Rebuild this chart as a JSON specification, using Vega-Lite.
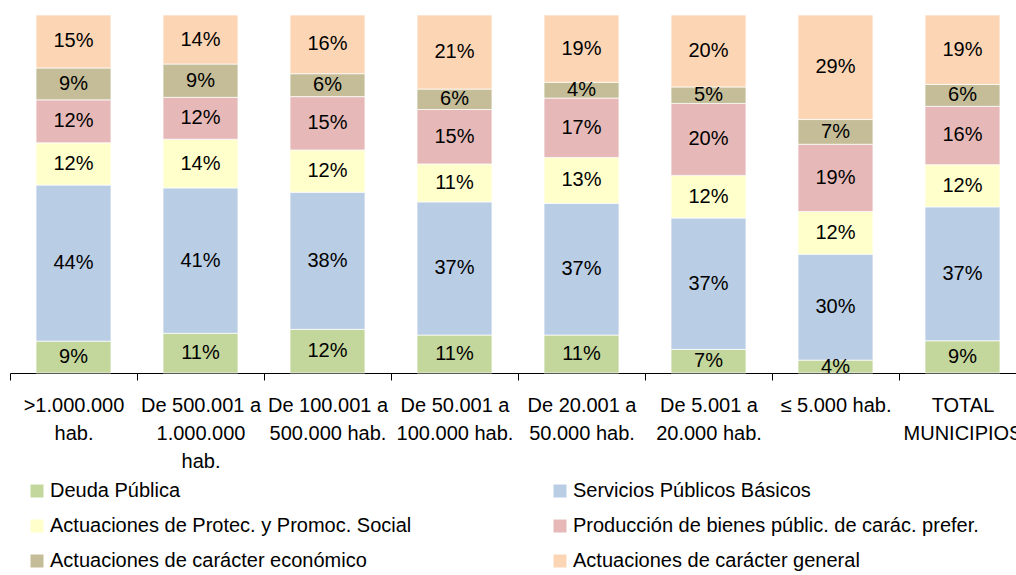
{
  "$schema": "https://vega.github.io/schema/vega-lite/v6.json",
  "width": 1016,
  "height": 358,
  "autosize": {"type": "none"},
  "padding": {"left": 10, "top": 15, "right": 0, "bottom": 202},
  "background": "white",
  "config": {
    "view": {"stroke": null},
    "font": "Liberation Sans"
  },
  "data": {
    "values": [
      {"tramo": ">1.000.000 hab.", "partida": "Deuda Pública", "orden": 1, "pct": 0.089},
      {"tramo": ">1.000.000 hab.", "partida": "Servicios Públicos Básicos", "orden": 2, "pct": 0.436},
      {"tramo": ">1.000.000 hab.", "partida": "Actuaciones de Protec. y Promoc. Social", "orden": 3, "pct": 0.118},
      {"tramo": ">1.000.000 hab.", "partida": "Producción de bienes públic. de carác. prefer.", "orden": 4, "pct": 0.120},
      {"tramo": ">1.000.000 hab.", "partida": "Actuaciones de carácter económico", "orden": 5, "pct": 0.089},
      {"tramo": ">1.000.000 hab.", "partida": "Actuaciones de carácter general", "orden": 6, "pct": 0.148},

      {"tramo": "De 500.001 a 1.000.000 hab.", "partida": "Deuda Pública", "orden": 1, "pct": 0.111},
      {"tramo": "De 500.001 a 1.000.000 hab.", "partida": "Servicios Públicos Básicos", "orden": 2, "pct": 0.406},
      {"tramo": "De 500.001 a 1.000.000 hab.", "partida": "Actuaciones de Protec. y Promoc. Social", "orden": 3, "pct": 0.136},
      {"tramo": "De 500.001 a 1.000.000 hab.", "partida": "Producción de bienes públic. de carác. prefer.", "orden": 4, "pct": 0.117},
      {"tramo": "De 500.001 a 1.000.000 hab.", "partida": "Actuaciones de carácter económico", "orden": 5, "pct": 0.093},
      {"tramo": "De 500.001 a 1.000.000 hab.", "partida": "Actuaciones de carácter general", "orden": 6, "pct": 0.137},

      {"tramo": "De 100.001 a 500.000 hab.", "partida": "Deuda Pública", "orden": 1, "pct": 0.122},
      {"tramo": "De 100.001 a 500.000 hab.", "partida": "Servicios Públicos Básicos", "orden": 2, "pct": 0.383},
      {"tramo": "De 100.001 a 500.000 hab.", "partida": "Actuaciones de Protec. y Promoc. Social", "orden": 3, "pct": 0.118},
      {"tramo": "De 100.001 a 500.000 hab.", "partida": "Producción de bienes públic. de carác. prefer.", "orden": 4, "pct": 0.149},
      {"tramo": "De 100.001 a 500.000 hab.", "partida": "Actuaciones de carácter económico", "orden": 5, "pct": 0.064},
      {"tramo": "De 100.001 a 500.000 hab.", "partida": "Actuaciones de carácter general", "orden": 6, "pct": 0.164},

      {"tramo": "De 50.001 a 100.000 hab.", "partida": "Deuda Pública", "orden": 1, "pct": 0.106},
      {"tramo": "De 50.001 a 100.000 hab.", "partida": "Servicios Públicos Básicos", "orden": 2, "pct": 0.372},
      {"tramo": "De 50.001 a 100.000 hab.", "partida": "Actuaciones de Protec. y Promoc. Social", "orden": 3, "pct": 0.106},
      {"tramo": "De 50.001 a 100.000 hab.", "partida": "Producción de bienes públic. de carác. prefer.", "orden": 4, "pct": 0.152},
      {"tramo": "De 50.001 a 100.000 hab.", "partida": "Actuaciones de carácter económico", "orden": 5, "pct": 0.057},
      {"tramo": "De 50.001 a 100.000 hab.", "partida": "Actuaciones de carácter general", "orden": 6, "pct": 0.207},

      {"tramo": "De 20.001 a 50.000 hab.", "partida": "Deuda Pública", "orden": 1, "pct": 0.106},
      {"tramo": "De 20.001 a 50.000 hab.", "partida": "Servicios Públicos Básicos", "orden": 2, "pct": 0.368},
      {"tramo": "De 20.001 a 50.000 hab.", "partida": "Actuaciones de Protec. y Promoc. Social", "orden": 3, "pct": 0.128},
      {"tramo": "De 20.001 a 50.000 hab.", "partida": "Producción de bienes públic. de carác. prefer.", "orden": 4, "pct": 0.166},
      {"tramo": "De 20.001 a 50.000 hab.", "partida": "Actuaciones de carácter económico", "orden": 5, "pct": 0.044},
      {"tramo": "De 20.001 a 50.000 hab.", "partida": "Actuaciones de carácter general", "orden": 6, "pct": 0.188},

      {"tramo": "De 5.001 a 20.000 hab.", "partida": "Deuda Pública", "orden": 1, "pct": 0.066},
      {"tramo": "De 5.001 a 20.000 hab.", "partida": "Servicios Públicos Básicos", "orden": 2, "pct": 0.367},
      {"tramo": "De 5.001 a 20.000 hab.", "partida": "Actuaciones de Protec. y Promoc. Social", "orden": 3, "pct": 0.119},
      {"tramo": "De 5.001 a 20.000 hab.", "partida": "Producción de bienes públic. de carác. prefer.", "orden": 4, "pct": 0.201},
      {"tramo": "De 5.001 a 20.000 hab.", "partida": "Actuaciones de carácter económico", "orden": 5, "pct": 0.046},
      {"tramo": "De 5.001 a 20.000 hab.", "partida": "Actuaciones de carácter general", "orden": 6, "pct": 0.201},

      {"tramo": "≤ 5.000 hab.", "partida": "Deuda Pública", "orden": 1, "pct": 0.036},
      {"tramo": "≤ 5.000 hab.", "partida": "Servicios Públicos Básicos", "orden": 2, "pct": 0.296},
      {"tramo": "≤ 5.000 hab.", "partida": "Actuaciones de Protec. y Promoc. Social", "orden": 3, "pct": 0.119},
      {"tramo": "≤ 5.000 hab.", "partida": "Producción de bienes públic. de carác. prefer.", "orden": 4, "pct": 0.188},
      {"tramo": "≤ 5.000 hab.", "partida": "Actuaciones de carácter económico", "orden": 5, "pct": 0.069},
      {"tramo": "≤ 5.000 hab.", "partida": "Actuaciones de carácter general", "orden": 6, "pct": 0.292},

      {"tramo": "TOTAL MUNICIPIOS", "partida": "Deuda Pública", "orden": 1, "pct": 0.090},
      {"tramo": "TOTAL MUNICIPIOS", "partida": "Servicios Públicos Básicos", "orden": 2, "pct": 0.374},
      {"tramo": "TOTAL MUNICIPIOS", "partida": "Actuaciones de Protec. y Promoc. Social", "orden": 3, "pct": 0.118},
      {"tramo": "TOTAL MUNICIPIOS", "partida": "Producción de bienes públic. de carác. prefer.", "orden": 4, "pct": 0.163},
      {"tramo": "TOTAL MUNICIPIOS", "partida": "Actuaciones de carácter económico", "orden": 5, "pct": 0.061},
      {"tramo": "TOTAL MUNICIPIOS", "partida": "Actuaciones de carácter general", "orden": 6, "pct": 0.194}
    ]
  },
  "encoding": {
    "x": {
      "field": "tramo",
      "type": "nominal",
      "scale": {
        "domain": [">1.000.000 hab.", "De 500.001 a 1.000.000 hab.", "De 100.001 a 500.000 hab.", "De 50.001 a 100.000 hab.", "De 20.001 a 50.000 hab.", "De 5.001 a 20.000 hab.", "≤ 5.000 hab.", "TOTAL MUNICIPIOS"],
        "paddingInner": 0,
        "paddingOuter": 0
      },
      "axis": {
        "title": null,
        "labelAngle": 0,
        "tickBand": "extent",
        "labelFont": "Liberation Sans",
        "labelFontSize": 20,
        "labelColor": "black",
        "labelLineHeight": 28,
        "labelPadding": 15,
        "labelOverlap": false,
        "labelBound": false,
        "labelLimit": 400,
        "domainColor": "black",
        "domainWidth": 1,
        "tickColor": "black",
        "tickSize": 7,
        "tickWidth": 1,
        "labelExpr": "datum.value == '>1.000.000 hab.' ? ['>1.000.000', 'hab.'] : datum.value == 'De 500.001 a 1.000.000 hab.' ? ['De 500.001 a', '1.000.000', 'hab.'] : datum.value == 'De 100.001 a 500.000 hab.' ? ['De 100.001 a', '500.000 hab.'] : datum.value == 'De 50.001 a 100.000 hab.' ? ['De 50.001 a', '100.000 hab.'] : datum.value == 'De 20.001 a 50.000 hab.' ? ['De 20.001 a', '50.000 hab.'] : datum.value == 'De 5.001 a 20.000 hab.' ? ['De 5.001 a', '20.000 hab.'] : datum.value == 'TOTAL MUNICIPIOS' ? ['TOTAL', 'MUNICIPIOS'] : datum.value"
      }
    },
    "y": {
      "field": "pct",
      "type": "quantitative",
      "stack": "zero",
      "scale": {"domain": [0, 1], "nice": false},
      "axis": null
    },
    "order": {"field": "orden", "type": "quantitative"}
  },
  "layer": [
    {
      "mark": {"type": "bar", "width": {"band": 0.59}, "stroke": "white", "strokeWidth": 0.7},
      "encoding": {
        "color": {
          "field": "partida",
          "type": "nominal",
          "scale": {
            "domain": ["Deuda Pública", "Servicios Públicos Básicos", "Actuaciones de Protec. y Promoc. Social", "Producción de bienes públic. de carác. prefer.", "Actuaciones de carácter económico", "Actuaciones de carácter general"],
            "range": ["#C3D69B", "#B9CDE5", "#FFFFCC", "#E6B9B8", "#C4BD97", "#FCD5B5"]
          },
          "legend": {
            "title": null,
            "orient": "none",
            "direction": "horizontal",
            "legendX": 17,
            "legendY": 466,
            "columns": 2,
            "padding": 0,
            "symbolType": "square",
            "symbolSize": 169,
            "symbolStrokeWidth": 0,
            "symbolOpacity": 1,
            "labelFont": "Liberation Sans",
            "labelFontSize": 20,
            "labelColor": "black",
            "labelOffset": 3,
            "labelLimit": 600,
            "rowPadding": 15,
            "columnPadding": 138
          }
        }
      }
    },
    {
      "mark": {"type": "text", "font": "Liberation Sans", "fontSize": 20, "color": "black", "baseline": "middle", "align": "center"},
      "encoding": {
        "y": {"field": "pct", "type": "quantitative", "stack": "zero", "bandPosition": 0.5},
        "text": {"field": "pct", "type": "quantitative", "format": ".0%"}
      }
    }
  ]
}
